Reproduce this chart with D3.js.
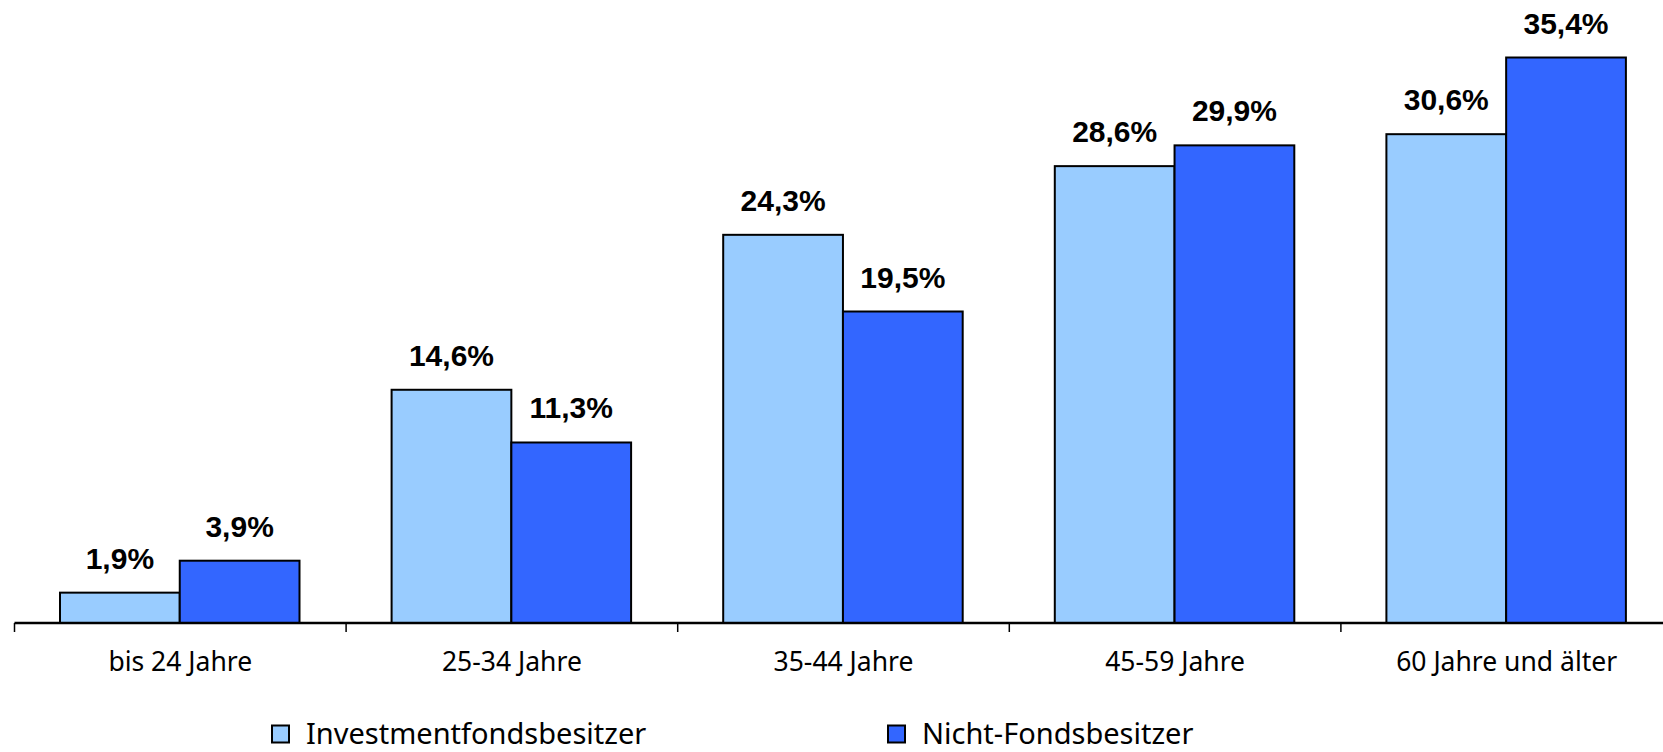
<!DOCTYPE html>
<html>
<head>
<meta charset="utf-8">
<script src="https://cdn.jsdelivr.net/npm/d3@7"></script>
<style>
  body { margin: 0; background: #fff; }
  svg { display: block; }
</style>
</head>
<body>
<div id="vis"></div>
<script>
// Data
var categories = ["bis 24 Jahre", "25-34 Jahre", "35-44 Jahre", "45-59 Jahre", "60 Jahre und älter"];
var seriesNames = ["Investmentfondsbesitzer", "Nicht-Fondsbesitzer"];
var fondsbesitzer = [1.9, 14.6, 24.3, 28.6, 30.6];
var nichtFondsbesitzer = [3.9, 11.3, 19.5, 29.9, 35.4];

var colors = ["#99ccff", "#3366ff"];

var width = 1663, height = 752;
var baseY = 623;

var svg = d3.select("#vis")
  .append("svg")
  .attr("width", width)
  .attr("height", height);

// band for each age group, reaching past the right edge like the original
var x = d3.scaleBand()
  .domain(categories)
  .range([14.5, 14.5 + 5 * 331.6])
  .padding(0);

var xInner = d3.scaleBand()
  .domain(seriesNames)
  .range([45.5, x.bandwidth() - 46.6])
  .padding(0);

var y = d3.scaleLinear()
  .domain([0, 39])
  .range([baseY, 0]);

var rows = categories.map(function(c, i) {
  return { cat: c, values: [fondsbesitzer[i], nichtFondsbesitzer[i]] };
});

var groups = svg.selectAll(".grp")
  .data(rows)
  .enter().append("g")
  .attr("class", "grp")
  .attr("transform", function(d) { return "translate(" + x(d.cat) + ",0)"; });

var bars = groups.selectAll(".bar")
  .data(function(d) { return d.values.map(function(v, j) { return { name: seriesNames[j], v: v, j: j }; }); })
  .enter();

bars.append("rect")
  .attr("class", "bar")
  .attr("x", function(d) { return xInner(d.name); })
  .attr("y", function(d) { return y(d.v); })
  .attr("width", xInner.bandwidth())
  .attr("height", function(d) { return baseY - y(d.v); })
  .attr("fill", function(d) { return colors[d.j]; })
  .attr("stroke", "#000")
  .attr("stroke-width", 2);

bars.append("text")
  .attr("x", function(d) { return xInner(d.name) + xInner.bandwidth() / 2; })
  .attr("y", function(d) { return y(d.v) - 24; })
  .attr("text-anchor", "middle")
  .attr("font-family", "Liberation Sans, Arial, sans-serif")
  .attr("font-weight", "bold")
  .attr("font-size", 30)
  .attr("fill", "#000")
  .text(function(d) { return d3.format(".1f")(d.v).replace(".", ",") + "%"; });

// axis line + ticks on the band boundaries
svg.append("line")
  .attr("x1", x.range()[0]).attr("x2", width)
  .attr("y1", baseY).attr("y2", baseY)
  .attr("stroke", "#000")
  .attr("stroke-width", 2.5);

svg.selectAll(".tick")
  .data(categories)
  .enter().append("line")
  .attr("x1", function(d) { return x(d); })
  .attr("x2", function(d) { return x(d); })
  .attr("y1", baseY)
  .attr("y2", baseY + 9)
  .attr("stroke", "#000")
  .attr("stroke-width", 1.5);

svg.selectAll(".catLabel")
  .data(categories)
  .enter().append("text")
  .attr("x", function(d) { return x(d) + x.bandwidth() / 2; })
  .attr("y", 671)
  .attr("text-anchor", "middle")
  .attr("font-family", "Noto Sans, sans-serif")
  .attr("font-size", 26.5)
  .attr("fill", "#000")
  .text(function(d) { return d; });

// legend
var legendX = [272, 888];
var legend = svg.selectAll(".legend")
  .data(seriesNames)
  .enter().append("g")
  .attr("transform", function(d, i) { return "translate(" + legendX[i] + ",725.5)"; });

legend.append("rect")
  .attr("width", 17)
  .attr("height", 17)
  .attr("fill", function(d, i) { return colors[i]; })
  .attr("stroke", "#000")
  .attr("stroke-width", 2);

legend.append("text")
  .attr("x", 34)
  .attr("y", 18.5)
  .attr("font-family", "Noto Sans, sans-serif")
  .attr("font-size", 29)
  .attr("fill", "#000")
  .text(function(d) { return d; });
</script>
</body>
</html>
